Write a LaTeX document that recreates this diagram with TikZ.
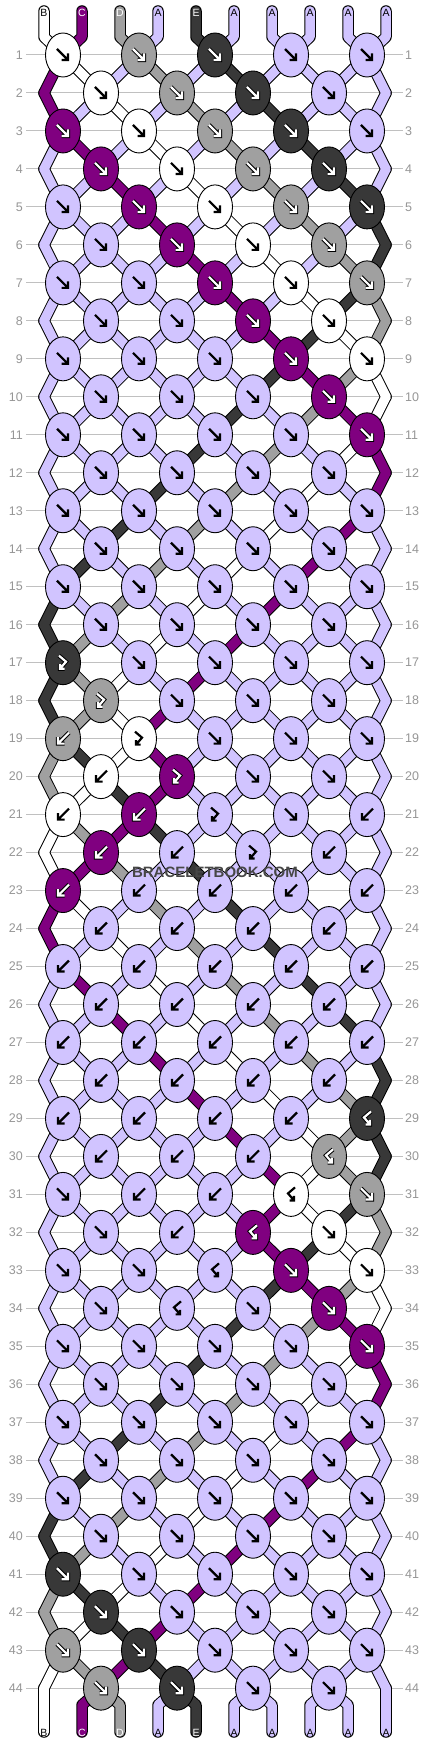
\documentclass[tikz,border=0pt]{standalone}
\usepackage{fontspec}
\setmainfont{Liberation Sans}
\usetikzlibrary{shapes.geometric}
\definecolor{thA}{RGB}{209,196,255}
\definecolor{thB}{RGB}{255,255,255}
\definecolor{thC}{RGB}{128,0,128}
\definecolor{thD}{RGB}{160,160,160}
\definecolor{thE}{RGB}{56,56,56}
\definecolor{rowgray}{RGB}{192,192,192}
\definecolor{numgray}{RGB}{150,150,150}

\newcommand\setG[2]{\expandafter\xdef\csname #1\endcsname{#2}}
\newcommand\allrow[2]{\foreach \Kx in {1,...,5}{\setG{KT#1-\Kx}{#2}}}
\newcommand\setrowkt[2]{\foreach \Ty [count=\Kx] in {#2}{\setG{KT#1-\Kx}{\Ty}}}

\foreach \Rw in {1,...,16}{\allrow{\Rw}{f}}
\setrowkt{17}{fb,f,f,f,f}
\setrowkt{18}{fb,f,f,f}
\setrowkt{19}{b,fb,f,f,f}
\setrowkt{20}{b,fb,f,f}
\setrowkt{21}{b,b,fb,f,b}
\setrowkt{22}{b,b,fb,b}
\foreach \Rw in {23,...,28}{\allrow{\Rw}{b}}
\setrowkt{29}{b,b,b,b,bf}
\setrowkt{30}{b,b,b,bf}
\setrowkt{31}{f,b,b,bf,f}
\setrowkt{32}{f,b,bf,f}
\setrowkt{33}{f,f,bf,f,f}
\setrowkt{34}{f,bf,f,f}
\foreach \Rw in {35,...,44}{\allrow{\Rw}{f}}

\setG{C0-0}{thB}\setG{C0-1}{thC}\setG{C0-2}{thD}\setG{C0-3}{thA}\setG{C0-4}{thE}
\setG{C0-5}{thA}\setG{C0-6}{thA}\setG{C0-7}{thA}\setG{C0-8}{thA}\setG{C0-9}{thA}

\def\tyf{f}\def\tyb{b}\def\tyfb{fb}\def\tybf{bf}
\foreach \Rw in {1,...,44}{%
  \pgfmathtruncatemacro\Pr{\Rw-1}%
  \foreach \Ps in {0,...,9}{\setG{C\Rw-\Ps}{\csname C\Pr-\Ps\endcsname}}%
  \ifodd\Rw\relax\def\Nk{5}\def\Off{0}\else\def\Nk{4}\def\Off{1}\fi
  \foreach \Kn in {1,...,\Nk}{%
    \pgfmathtruncatemacro\Lp{2*(\Kn-1)+\Off}%
    \pgfmathtruncatemacro\Rp{\Lp+1}%
    \edef\colL{\csname C\Pr-\Lp\endcsname}%
    \edef\colR{\csname C\Pr-\Rp\endcsname}%
    \edef\Kt{\csname KT\Rw-\Kn\endcsname}%
    \ifx\Kt\tyf \setG{K\Rw-\Kn}{\colL}\setG{C\Rw-\Lp}{\colR}\setG{C\Rw-\Rp}{\colL}\fi
    \ifx\Kt\tyb \setG{K\Rw-\Kn}{\colR}\setG{C\Rw-\Lp}{\colR}\setG{C\Rw-\Rp}{\colL}\fi
    \ifx\Kt\tyfb \setG{K\Rw-\Kn}{\colL}\fi
    \ifx\Kt\tybf \setG{K\Rw-\Kn}{\colR}\fi
  }%
}

\newcommand\getloc[2]{%
  \ifodd#1\relax
    \pgfmathtruncatemacro\Gk{floor((#2)/2)+1}\edef\locn{n#1-\Gk}%
  \else
    \ifnum#2=0 \edef\locn{eL#1}%
    \else\ifnum#2=9 \edef\locn{eR#1}%
    \else\pgfmathtruncatemacro\Gk{floor((#2-1)/2)+1}\edef\locn{n#1-\Gk}%
    \fi\fi
  \fi}

\def\arrf{(-6,-6) -- (5,5) (5,-1.5) -- (5,5) -- (-1.5,5)}
\def\arrb{(6,-6) -- (-5,5) (-5,-1.5) -- (-5,5) -- (1.5,5)}
\def\arrfb{(-4,-7) -- (3,-1) -- (-3,6) (-3,1.5) -- (-3,6) -- (1.5,6)}
\def\arrbf{(4,-7) -- (-3,-1) -- (3,6) (3,1.5) -- (3,6) -- (-1.5,6)}
\def\cthC{thC}\def\cthD{thD}\def\cthE{thE}

% band pass: #1 = 0 outline, 1 fill
\newcommand\bandpass[1]{%
  \foreach \Ps in {0,...,9}{%
    \getloc{1}{\Ps}%
    \edef\cc{\csname C0-\Ps\endcsname}%
    \ifnum#1=0 \draw[bandout] (t\Ps) -- (tt\Ps) -- (\locn);%
    \else \draw[bandin=\cc] (t\Ps) -- (tt\Ps) -- (\locn);\fi
  }%
  \foreach \Rw in {1,...,43}{%
    \pgfmathtruncatemacro\Nr{\Rw+1}%
    \foreach \Ps in {0,...,9}{%
      \getloc{\Rw}{\Ps}\let\locA\locn
      \getloc{\Nr}{\Ps}\let\locB\locn
      \edef\cc{\csname C\Rw-\Ps\endcsname}%
      \ifnum#1=0 \draw[bandout] (\locA) -- (\locB);%
      \else \draw[bandin=\cc] (\locA) -- (\locB);\fi
    }%
  }%
  \foreach \Ps in {0,...,9}{%
    \getloc{44}{\Ps}%
    \edef\cc{\csname C44-\Ps\endcsname}%
    \ifnum#1=0 \draw[bandout] (\locn) -- (bb\Ps) -- (b\Ps);%
    \else \draw[bandin=\cc] (\locn) -- (bb\Ps) -- (b\Ps);\fi
  }%
}

\begin{document}
\begin{tikzpicture}[x=1pt,y=-1pt,
  bandout/.style={line width=11.5pt, draw=black, line cap=round, line join=round},
  bandin/.style={line width=9.5pt, draw=#1, line cap=round, line join=round},
  knot/.style={ellipse, draw=black, line width=0.9pt, minimum width=35pt, minimum height=44pt, inner sep=0pt},
  rowline/.style={draw=rowgray, line width=1pt},
  rownum/.style={text=numgray, font=\fontsize{12.5}{12.5}\selectfont, inner sep=0pt},
  lab/.style={font=\fontsize{10.5}{10.5}\selectfont, inner sep=0pt},
  arrblack/.style={draw=black, line width=2.2pt, line cap=butt, line join=miter},
  arrout/.style={draw=black, line width=4.2pt, line cap=square, line join=miter},
  arrwhite/.style={draw=white, line width=2.2pt, line cap=butt, line join=miter}
]
\useasboundingbox (0,0) rectangle (430,1744);
\fill[white] (0,0) rectangle (430,1744);

% row lines and numbers
\foreach \Rw in {1,...,44}{
  \pgfmathsetmacro\Yy{55+37.98*(\Rw-1)}
  \draw[rowline] (26,\Yy) -- (403,\Yy);
  \node[rownum, anchor=east] (ln\Rw) at (23,\Yy) {\Rw};
  \node[rownum, anchor=west] (rn\Rw) at (405,\Yy) {\Rw};
}

% coordinates
\foreach \Rw in {1,...,44}{
  \pgfmathsetmacro\Yy{55+37.98*(\Rw-1)}
  \ifodd\Rw\relax
    \foreach \Kn in {1,...,5}{\coordinate (n\Rw-\Kn) at ({63+76*(\Kn-1)},\Yy);}
  \else
    \foreach \Kn in {1,...,4}{\coordinate (n\Rw-\Kn) at ({101+76*(\Kn-1)},\Yy);}
    \coordinate (eL\Rw) at (44,\Yy);
    \coordinate (eR\Rw) at (386,\Yy);
  \fi
}
\foreach \Ps in {0,...,9}{
  \coordinate (t\Ps) at ({44+38*\Ps},11);
  \coordinate (tt\Ps) at ({44+38*\Ps},37);
  \coordinate (bb\Ps) at ({44+38*\Ps},1705);
  \coordinate (b\Ps) at ({44+38*\Ps},1732);
}

% strings
\bandpass{0}
\bandpass{1}

% knots
\foreach \Rw in {1,...,44}{
  \ifodd\Rw\relax\def\Nk{5}\else\def\Nk{4}\fi
  \foreach \Kn in {1,...,\Nk}{
    \edef\kc{\csname K\Rw-\Kn\endcsname}
    \edef\kt{\csname KT\Rw-\Kn\endcsname}
    \expandafter\let\expandafter\arrp\csname arr\kt\endcsname
    \node[knot, fill=\kc] (k\Rw-\Kn) at (n\Rw-\Kn) {};
    \def\isdark{0}
    \ifx\kc\cthC\def\isdark{1}\fi
    \ifx\kc\cthD\def\isdark{1}\fi
    \ifx\kc\cthE\def\isdark{1}\fi
    \begin{scope}[shift={(n\Rw-\Kn)}]
      \ifnum\isdark=1
        \draw[arrout] \arrp;
        \draw[arrwhite] \arrp;
      \else
        \draw[arrblack] \arrp;
      \fi
    \end{scope}
  }
}

% labels
\foreach \Ps/\Lt/\Tc in {0/B/black,1/C/white,2/D/white,3/A/black,4/E/white,5/A/black,6/A/black,7/A/black,8/A/black,9/A/black}{
  \node[lab, text=\Tc] (tl\Ps) at ({44+38*\Ps},13) {\Lt};
  \node[lab, text=\Tc] (bl\Ps) at ({44+38*\Ps},1733) {\Lt};
}

% watermark
\node[font=\bfseries\fontsize{15}{15}\selectfont, text=black!72, inner sep=0pt] (wm) at (215,872) {BRACELETBOOK.COM};
\end{tikzpicture}
\end{document}
